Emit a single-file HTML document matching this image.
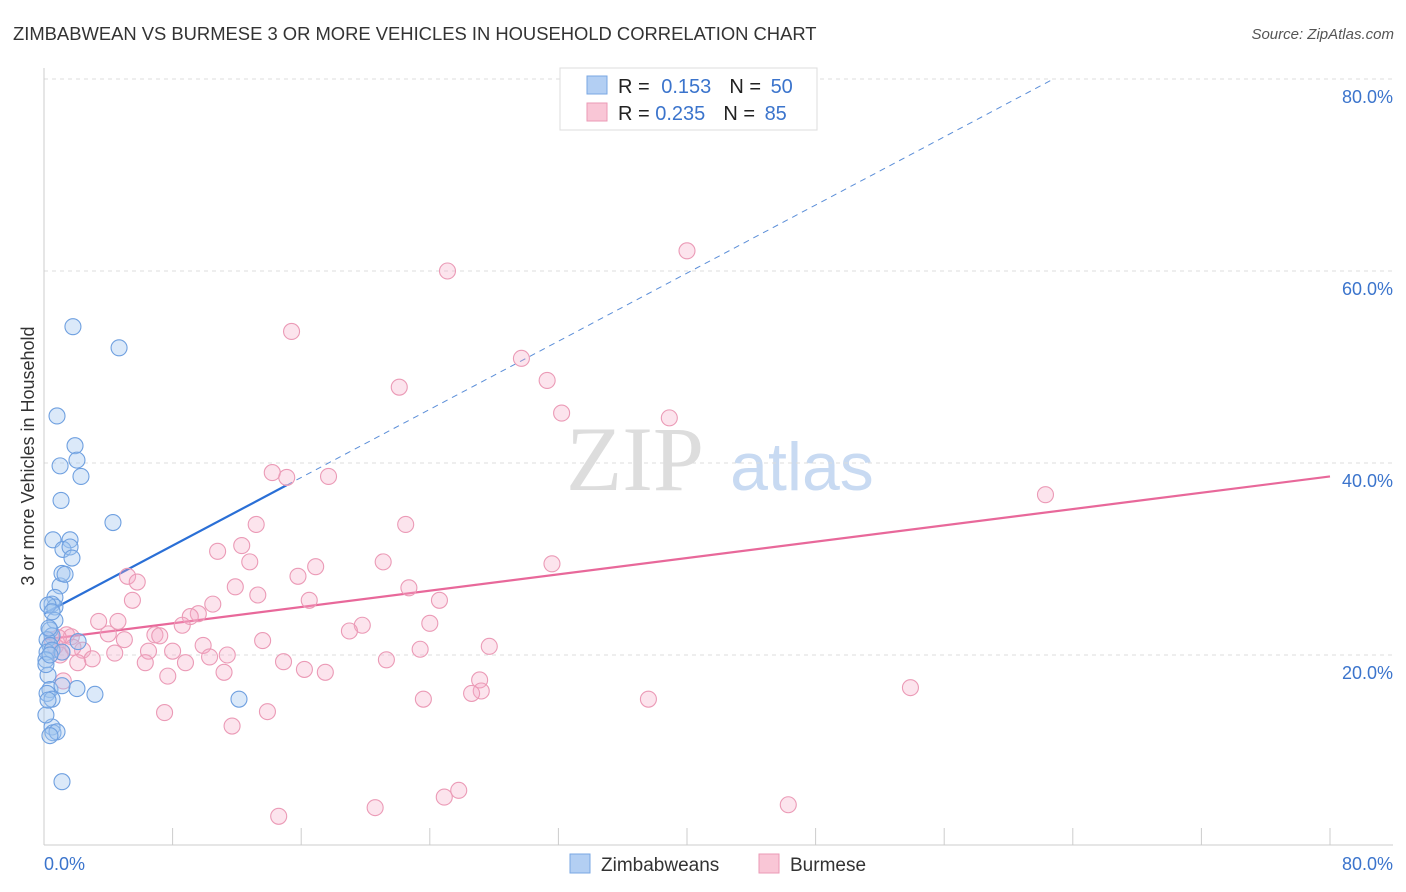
<!DOCTYPE html>
<html><head><meta charset="utf-8">
<style>
body{margin:0;background:#fff;font-family:"Liberation Sans",sans-serif;}
svg{display:block}
</style></head>
<body>
<svg id="chart" width="1406" height="892">
<text x="13" y="40" font-size="18.4" fill="#333">ZIMBABWEAN VS BURMESE 3 OR MORE VEHICLES IN HOUSEHOLD CORRELATION CHART</text>
<text x="1394" y="39" font-size="15" fill="#555" font-style="italic" text-anchor="end">Source: ZipAtlas.com</text>
<text transform="translate(34,456) rotate(-90)" font-size="18" fill="#333" text-anchor="middle">3 or more Vehicles in Household</text>
<g>
<text x="635" y="490" font-size="92" fill="#ddd" font-family="Liberation Serif,serif" text-anchor="middle">ZIP</text>
<text x="802" y="490" font-size="68" fill="#c8daf2" text-anchor="middle">atlas</text>
</g>
<g id="grid"></g>
<g id="axes"></g>
<g id="lines"></g>
<g id="points"></g>
<g>
<rect x="560" y="68" width="257" height="62" fill="#fff" stroke="#ddd"/>
<rect x="587" y="76" width="20" height="18" fill="#b3cff3" stroke="#7aa7e3"/>
<rect x="587" y="103" width="20" height="18" fill="#f9c6d6" stroke="#eb9ab6"/>
<text x="618" y="93" font-size="20" fill="#222">R = <tspan fill="#3b74cc" dx="6">0.153</tspan><tspan dx="18" fill="#222">N = </tspan><tspan fill="#3b74cc" dx="4">50</tspan></text>
<text x="618" y="120" font-size="20" fill="#222">R = <tspan fill="#3b74cc">0.235</tspan><tspan dx="18" fill="#222">N = </tspan><tspan fill="#3b74cc" dx="4">85</tspan></text>
</g>
<g>
<rect x="570" y="854" width="20" height="19" fill="#b3cff3" stroke="#7aa7e3"/>
<text x="601" y="871" font-size="19" fill="#333">Zimbabweans</text>
<rect x="759" y="854" width="20" height="19" fill="#f9c6d6" stroke="#eb9ab6"/>
<text x="790" y="871" font-size="19" fill="#333">Burmese</text>
</g>
</svg>
<script>
const yTicks=[20,40,60,80];
const xTickCount=10;
const blueX=[1.8,4.67,0.81,1.93,1.0,2.05,2.3,1.06,4.29,0.56,1.62,1.18,1.62,1.74,1.0,1.12,1.31,0.68,0.5,0.68,0.25,0.68,0.37,0.5,0.19,0.37,0.19,0.5,1.12,2.12,0.12,0.25,0.37,0.19,0.5,2.05,3.17,1.12,12.13,0.5,0.56,0.81,0.37,1.12,0.12,0.25,0.12,0.37,0.31,0.5];
const blueY=[54.2,52.0,44.9,41.8,39.7,40.3,38.6,36.1,33.8,32.0,32.0,31.0,31.25,30.1,27.2,28.5,28.4,26.0,25.3,25.0,25.2,23.6,22.6,22.0,21.6,21.0,20.3,20.5,20.3,21.4,19.5,17.9,16.4,16.0,15.4,16.5,15.9,16.8,15.4,12.5,11.9,12.0,11.6,6.8,13.75,15.3,19.0,20.0,22.8,24.5];
const pinkX=[40.0,25.1,15.4,29.7,31.3,22.1,32.2,38.9,14.2,15.1,17.7,62.3,22.5,13.2,12.3,10.8,12.8,21.1,31.6,16.9,15.8,5.2,5.8,11.9,13.3,22.7,16.5,5.5,10.5,24.6,9.6,9.1,8.6,19.8,3.4,4.6,24.0,19.0,6.9,7.2,4.0,5.0,1.4,1.7,13.6,9.9,27.7,23.4,2.4,8.0,6.5,0.7,1.1,4.4,3.0,10.3,11.4,2.1,6.3,8.8,21.3,14.9,16.2,17.5,7.7,11.2,27.1,1.2,53.9,27.2,26.6,23.6,37.6,7.5,13.9,11.7,25.8,24.9,46.3,20.6,14.6,1.0,0.5,0.9,1.8];
const pinkY=[62.1,60.0,53.7,50.9,48.6,47.9,45.2,44.7,39.0,38.5,38.6,36.7,33.6,33.6,31.4,30.8,29.7,29.7,29.5,29.2,28.2,28.2,27.6,27.1,26.25,27.0,25.7,25.7,25.3,25.7,24.3,24.0,23.1,23.1,23.5,23.5,23.3,22.5,22.1,22.0,22.2,21.6,22.1,21.9,21.5,21.0,20.9,20.6,20.5,20.4,20.4,20.9,20.3,20.2,19.6,19.8,20.0,19.2,19.2,19.2,19.5,19.3,18.5,18.2,17.8,18.2,17.4,17.3,16.6,16.25,16.0,15.4,15.4,14.0,14.1,12.6,5.9,5.2,4.4,4.1,3.2,20.0,21.6,21.8,20.8];
const blueTrend=[24.3,0.887,15.1];
const pinkTrend=[21.6,38.6];
const NS="http://www.w3.org/2000/svg";
const X=v=>44+v*16.075, Y=v=>847-v*9.6;
function mk(tag,attrs,parent){const e=document.createElementNS(NS,tag);for(const k in attrs)e.setAttribute(k,attrs[k]);document.getElementById(parent).appendChild(e);return e;}
yTicks.forEach(t=>{
 const g=mk('line',{x1:44,x2:1393,y1:Y(t),y2:Y(t),stroke:'#ddd','stroke-dasharray':'4,4'},'grid');
 
 
 const l=mk('text',{x:1393,y:Y(t)+24,'font-size':18,fill:'#3b74cc','text-anchor':'end'},'grid');
 l.textContent=t.toFixed(1)+'%';
 
 
});
let a=mk('line',{x1:44,x2:44,y1:68,y2:845,stroke:'#ccc'},'axes');


a=mk('line',{x1:44,x2:1393,y1:845,y2:845,stroke:'#ccc'},'axes');


for(let i=1;i<=xTickCount;i++){const t=mk('line',{x1:X(i*8),x2:X(i*8),y1:828,y2:845,stroke:'#ccc'},'axes');
 
 }
let xl=mk('text',{x:44,y:870,'font-size':18,fill:'#3b74cc'},'axes');xl.textContent='0.0%';


xl=mk('text',{x:1393,y:870,'font-size':18,fill:'#3b74cc','text-anchor':'end'},'axes');xl.textContent='80.0%';


function drawPts(xs,ys,fill,stroke,name){xs.forEach((x,i)=>{const c=mk('circle',{cx:X(x),cy:Y(ys[i]),r:8,fill:fill,stroke:stroke,'stroke-width':1.1},'points');
 
 });}
drawPts(pinkX,pinkY,'rgba(246,172,198,0.32)','#eb9ab6','burmese-point');
drawPts(blueX,blueY,'rgba(160,196,240,0.38)','#6fa0e0','zimbabwean-point');
const bx2=(80-blueTrend[0])/blueTrend[1];
let ln=mk('line',{x1:X(blueTrend[2]),y1:Y(blueTrend[0]+blueTrend[1]*blueTrend[2]),x2:X(bx2),y2:Y(80),stroke:'#5b8ed8','stroke-width':1,'stroke-dasharray':'6,5'},'lines');


ln=mk('line',{x1:X(0),y1:Y(blueTrend[0]),x2:X(blueTrend[2]),y2:Y(blueTrend[0]+blueTrend[1]*blueTrend[2]),stroke:'#2a6fd6','stroke-width':2.2},'lines');


ln=mk('line',{x1:X(0),y1:Y(pinkTrend[0]),x2:X(80),y2:Y(pinkTrend[1]),stroke:'#e8689a','stroke-width':2.2},'lines');


</script>
</body></html>
